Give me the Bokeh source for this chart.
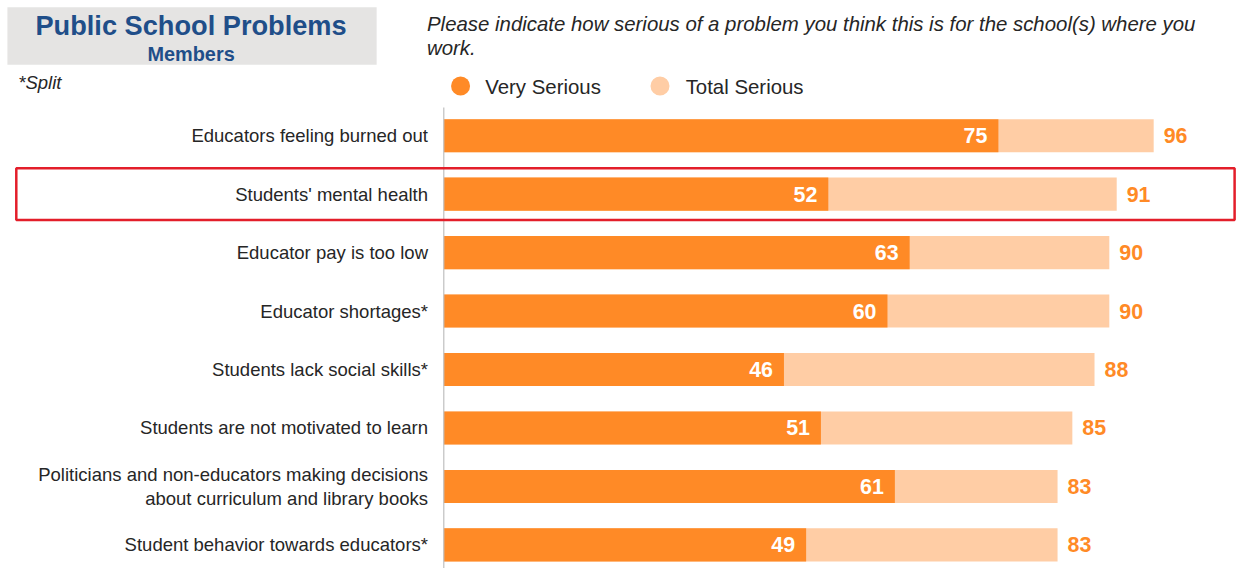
from bokeh.plotting import figure
from bokeh.models import Range1d, ColumnDataSource
from bokeh.core.properties import value
from bokeh.embed import file_html
from bokeh.resources import INLINE

# ---- data ----
categories = [
    "Educators feeling burned out",
    "Students' mental health",
    "Educator pay is too low",
    "Educator shortages*",
    "Students lack social skills*",
    "Students are not motivated to learn",
    "Politicians and non-educators making decisions\nabout curriculum and library books",
    "Student behavior towards educators*",
]
very_serious = [75, 52, 63, 60, 46, 51, 61, 49]
total_serious = [96, 91, 90, 90, 88, 85, 83, 83]
series_names = ["Very Serious", "Total Serious"]
title_text = "Public School Problems"
subtitle_text = "Members"
note_text = "*Split"
question_text = "Please indicate how serious of a problem you think this is for the school(s) where you\nwork."
highlight_index = 1

# ---- layout / style ----
W, H = 1242, 568
REF_W, REF_H = 1258, 584
SX = W / REF_W
SY = H / REF_H
X0_PX = 449.0      # reference pixel of value 0
PX_PER_UNIT = 7.49
Y0_PX = 139.0      # reference pixel of first row centre
PX_PER_ROW = 60.1

DARK = "#FF8A26"
LIGHT = "#FFCDA5"
NAVY = "#1F4E89"
TEXT = "#262626"
FONT = value("Liberation Sans")


def fs(px):
    return "%.1fpx" % (px * SY)


def dx(px):
    return (px - X0_PX) / PX_PER_UNIT


def dy(py):
    return (py - Y0_PX) / PX_PER_ROW


x_range = Range1d(dx(0), dx(REF_W))
y_range = Range1d(dy(REF_H), dy(0))  # flipped: rows go downward

p = figure(width=W, height=H, x_range=x_range, y_range=y_range,
           output_backend="svg", toolbar_location=None,
           min_border=0, min_border_left=0, min_border_right=0,
           min_border_top=0, min_border_bottom=0)
p.xaxis.visible = False
p.yaxis.visible = False
p.xgrid.visible = False
p.ygrid.visible = False
p.outline_line_color = None
p.background_fill_color = "white"
p.border_fill_color = "white"

rows = list(range(len(categories)))
src = ColumnDataSource(dict(
    y=rows, cat=categories, very=very_serious, total=total_serious,
    very_lbl=[str(v) for v in very_serious],
    total_lbl=[str(v) for v in total_serious],
))

BAR_H = 34 / PX_PER_ROW

# bars
p.hbar(y="y", left=0, right="total", height=BAR_H, source=src,
       fill_color=LIGHT, line_color=None)
p.hbar(y="y", left=0, right="very", height=BAR_H, source=src,
       fill_color=DARK, line_color=None)

# value axis line
p.segment(x0=[0], x1=[0], y0=[dy(110)], y1=[dy(REF_H)],
          line_color="#BFBFBF", line_width=1.2)

# value labels
p.text(x="very", y="y", text="very_lbl", source=src, text_align="right",
       text_baseline="middle", x_offset=-11, text_color="white",
       text_font=FONT, text_font_style="bold", text_font_size=fs(22))
p.text(x="total", y="y", text="total_lbl", source=src, text_align="left",
       text_baseline="middle", x_offset=10, text_color=DARK,
       text_font=FONT, text_font_style="bold", text_font_size=fs(22))

# category labels
p.text(x=dx(433), y="y", text="cat", source=src, text_align="right",
       text_baseline="middle", text_color=TEXT, text_font=FONT,
       text_font_size=fs(19), text_line_height=1.15)

# highlight box
p.quad(left=[dx(16)], right=[dx(1250)],
       top=[highlight_index - 26.5 / PX_PER_ROW],
       bottom=[highlight_index + 26.5 / PX_PER_ROW],
       fill_color=None, line_color="#E31E2A", line_width=2.5)

# title box
p.quad(left=[dx(7)], right=[dx(381)], top=[dy(7)], bottom=[dy(66)],
       fill_color="#E5E4E3", line_color=None)
p.text(x=[dx(193)], y=[dy(26)], text=[title_text], text_align="center",
       text_baseline="middle", text_color=NAVY, text_font=FONT,
       text_font_style="bold", text_font_size=fs(28))
p.text(x=[dx(193)], y=[dy(55)], text=[subtitle_text], text_align="center",
       text_baseline="middle", text_color=NAVY, text_font=FONT,
       text_font_style="bold", text_font_size=fs(20.5))
p.text(x=[dx(18)], y=[dy(84)], text=[note_text], text_align="left",
       text_baseline="middle", text_color=TEXT, text_font=FONT,
       text_font_style="italic", text_font_size=fs(19))

# question
p.text(x=[dx(432)], y=[dy(36.5)], text=[question_text], text_align="left",
       text_baseline="middle", text_color=TEXT, text_font=FONT,
       text_font_style="italic", text_font_size=fs(21), text_line_height=1.1)

# legend
p.scatter(x=[dx(466), dx(668)], y=[dy(88), dy(88)], marker="circle", size=19,
          fill_color=[DARK, LIGHT], line_color=None)
p.text(x=[dx(491), dx(694)], y=[dy(89), dy(89)], text=series_names,
       text_align="left", text_baseline="middle", text_color=TEXT,
       text_font=FONT, text_font_size=fs(21))

open("out.html", "w").write(file_html(p, INLINE))
